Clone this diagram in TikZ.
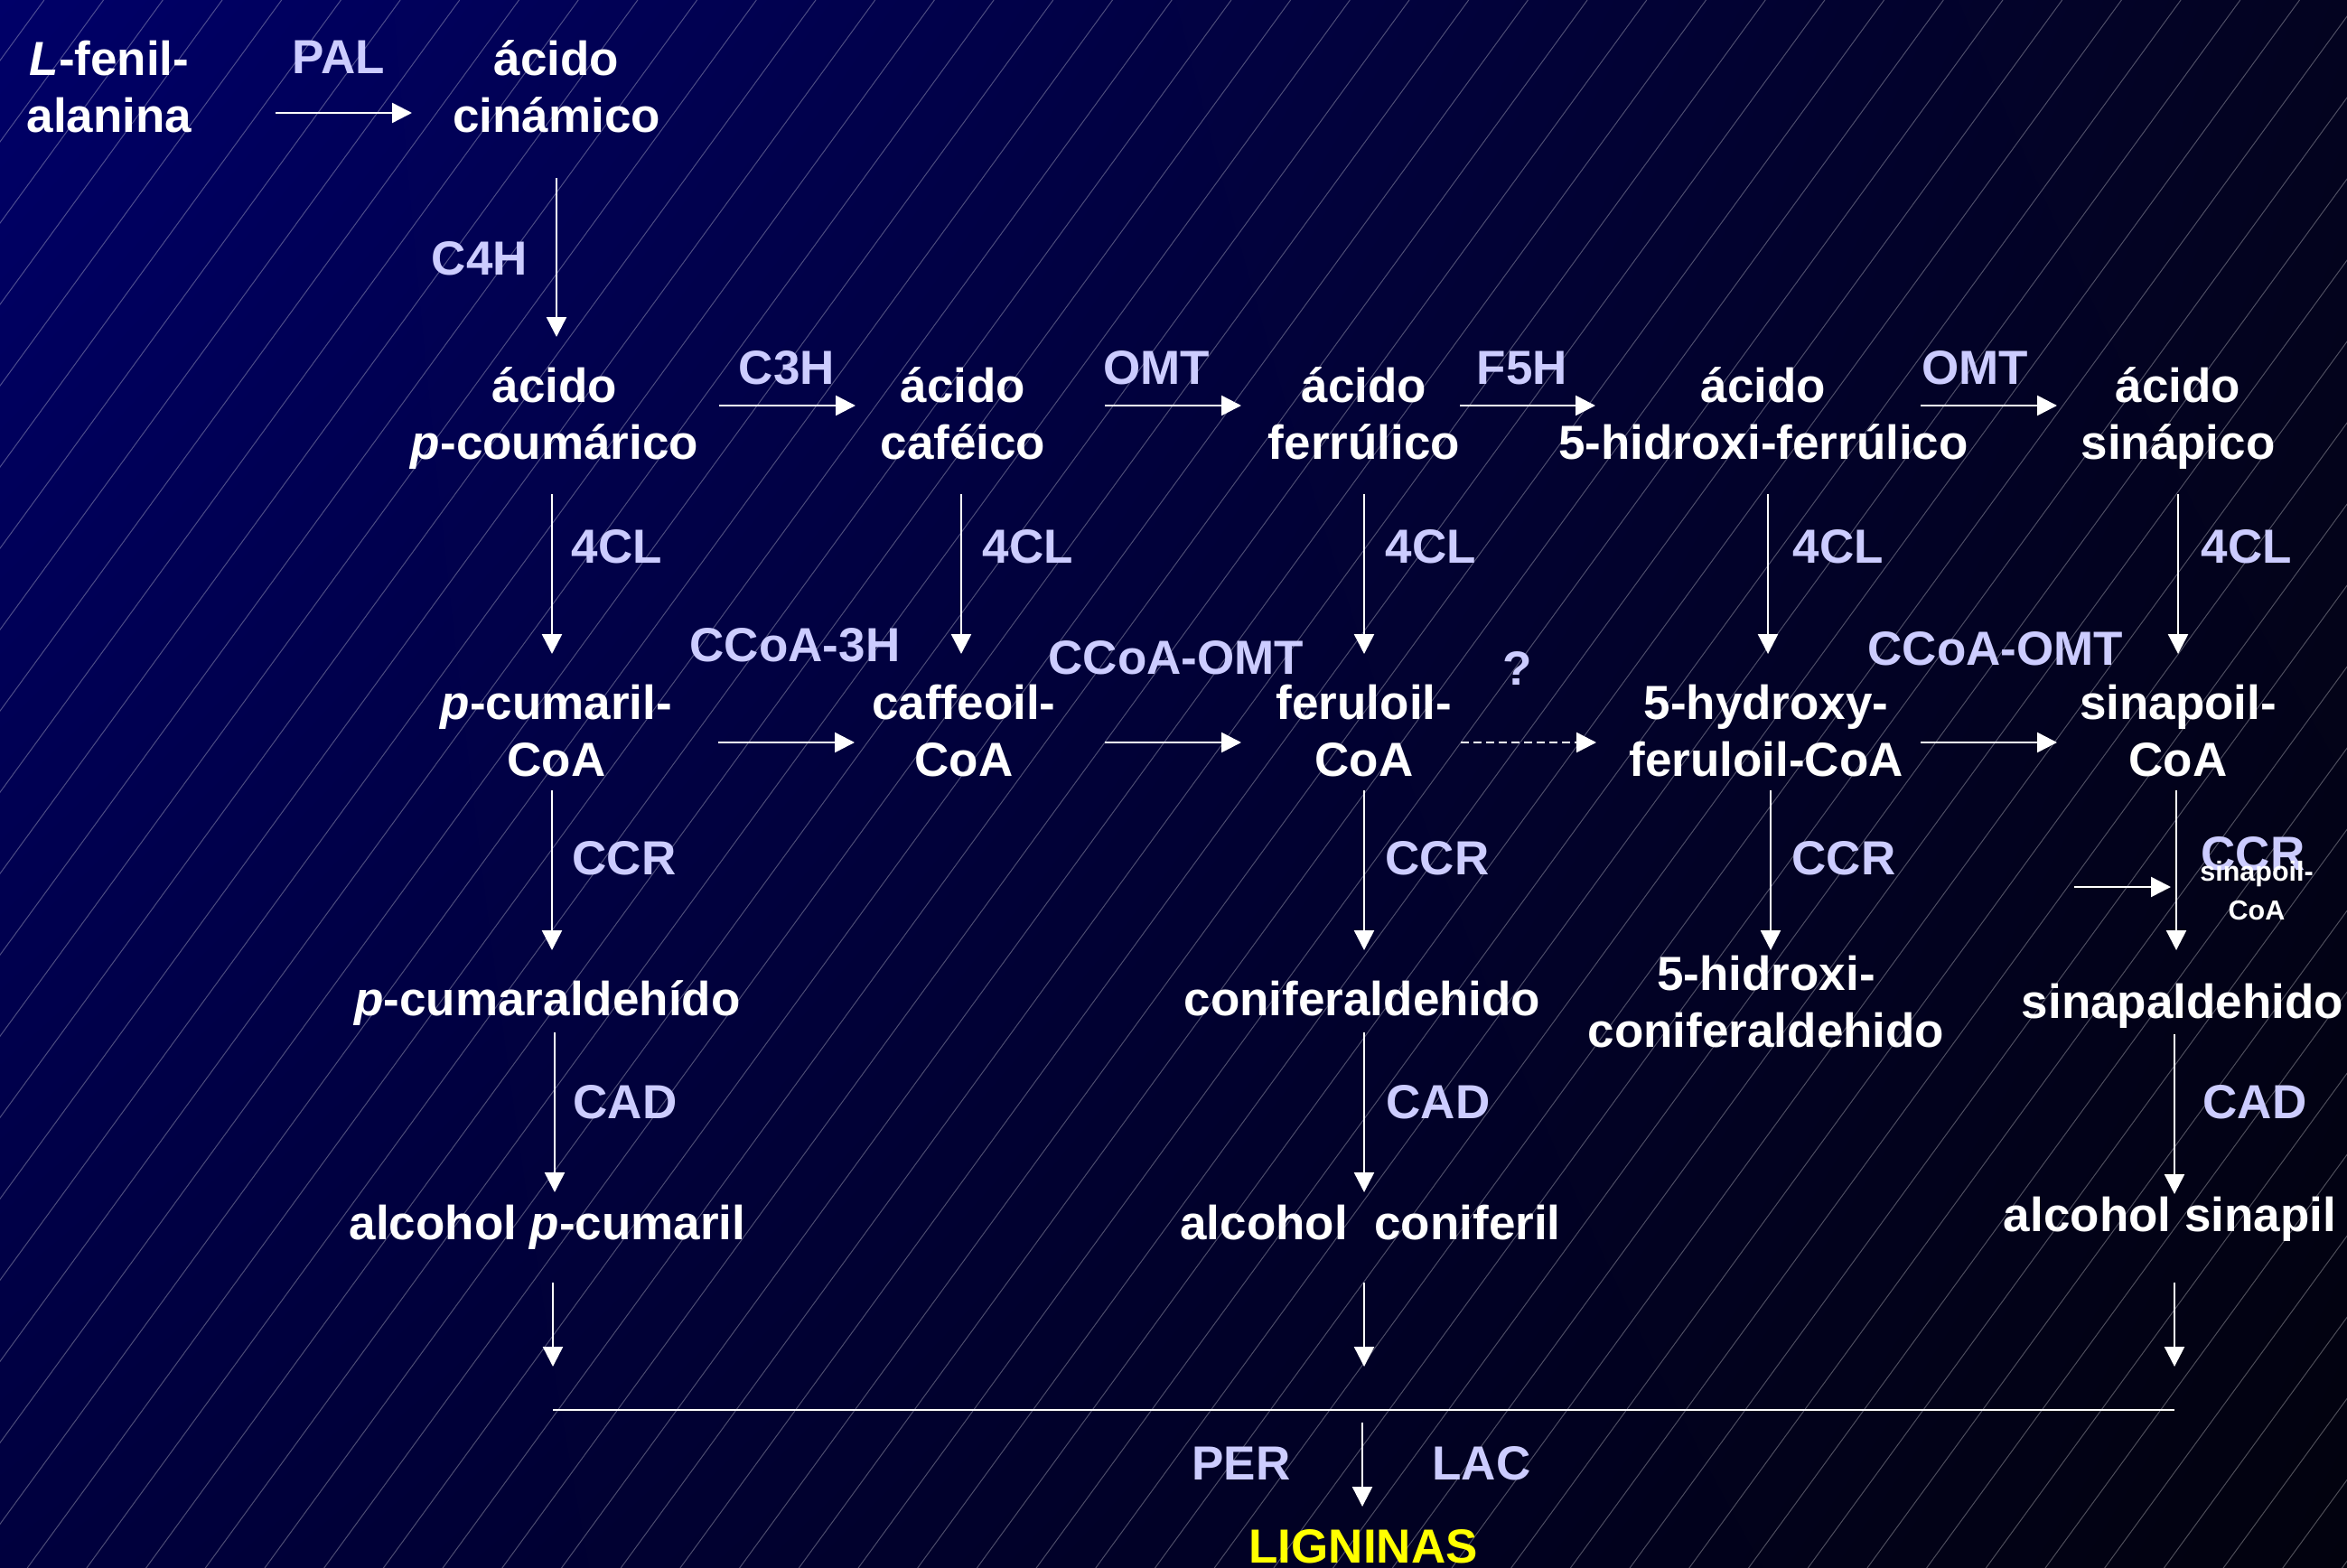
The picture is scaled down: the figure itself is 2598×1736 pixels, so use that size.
\documentclass[tikz,border=0pt]{standalone}
\usepackage{fontspec}
\setmainfont{Liberation Sans}
\usetikzlibrary{arrows.meta,shadings}
\definecolor{enz}{RGB}{204,204,255}
\definecolor{bgUL}{RGB}{0,0,104}
\definecolor{bgUR}{RGB}{3,3,32}
\definecolor{bgLL}{RGB}{0,0,62}
\definecolor{bgLR}{RGB}{2,2,14}
\definecolor{lig}{RGB}{255,255,0}
\begin{document}
\begin{tikzpicture}[x=1pt,y=-1pt,
  chem/.style={text=white,font=\bfseries\fontsize{53}{63}\selectfont,align=center,inner sep=0pt},
  enzl/.style={text=enz,font=\bfseries\fontsize{53}{63}\selectfont,inner sep=0pt,anchor=base},
  arr/.style={draw=white,line width=2.5pt,-{Triangle[width=22pt,length=22pt]}},
  rule/.style={draw=white,line width=2.5pt},
  bgline/.style={draw=white,draw opacity=0.3,line width=1pt}]
\useasboundingbox (0,0) rectangle (2598,1736);
\shade[upper left=bgUL,upper right=bgUR,lower left=bgLL,lower right=bgLR] (0,0) rectangle (2598,1736);
\begin{scope}
\clip (0,0) rectangle (2598,1736);
\foreach \m in {-25,...,34} \draw[bgline] ({2217-65.7*\m},0) -- ({950-65.7*\m},1736);
\end{scope}

% compounds
\node[chem] (phe) at (121,102.9) {\strut\textit{L}-fenil-\\\strut alanina};
\node[chem] (cin) at (616,102.9) {\strut ácido\\\strut cinámico};
\node[chem] (pcou) at (614,463.9) {\strut ácido\\\strut\textit{p}-coumárico};
\node[chem] (caf) at (1066,463.9) {\strut ácido\\\strut caféico};
\node[chem] (fer) at (1510,463.9) {\strut ácido\\\strut ferrúlico};
\node[chem] (hfer) at (1952,463.9) {\strut ácido\\\strut 5-hidroxi-ferrúlico};
\node[chem] (sin) at (2411,463.9) {\strut ácido\\\strut sinápico};
\node[chem] (pcoa) at (616,814.9) {\strut\textit{p}-cumaril-\\\strut CoA};
\node[chem] (cafcoa) at (1067,814.9) {\strut caffeoil-\\\strut CoA};
\node[chem] (fercoa) at (1510,814.9) {\strut feruloil-\\\strut CoA};
\node[chem] (hfercoa) at (1955,814.9) {\strut 5-hydroxy-\\\strut feruloil-CoA};
\node[chem] (sincoa) at (2411,814.9) {\strut sinapoil-\\\strut CoA};
\node[chem] (pald) at (606,1111.4) {\strut\textit{p}-cumaraldehído};
\node[chem] (cald) at (1508,1111.4) {\strut coniferaldehido};
\node[chem] (hcald) at (1955,1114.9) {\strut 5-hidroxi-\\\strut coniferaldehido};
\node[chem] (sald) at (2416,1114.4) {\strut sinapaldehido};
\node[chem] (palc) at (606,1359.4) {\strut alcohol \textit{p}-cumaril};
\node[chem] (calc) at (1517,1359.4) {\strut alcohol~~coniferil};
\node[chem] (salc) at (2402,1350.4) {\strut alcohol sinapil};
\node[chem,text=lig] (lig) at (1509,1717.4) {\strut LIGNINAS};

% enzymes
\node[enzl] (pal) at (375,82) {PAL};
\node[enzl] (c4h) at (531,305) {C4H};
\node[enzl] (c3h) at (871,425) {C3H};
\node[enzl] (omt1) at (1280,425) {OMT};
\node[enzl] (f5h) at (1685,425) {F5H};
\node[enzl] (omt2) at (2186,425) {OMT};
\node[enzl] (cl1) at (683,623) {4CL};
\node[enzl] (cl2) at (1138,623) {4CL};
\node[enzl] (cl3) at (1584,623) {4CL};
\node[enzl] (cl4) at (2035,623) {4CL};
\node[enzl] (cl5) at (2487,623) {4CL};
\node[enzl] (cc3h) at (880,732) {CCoA-3H};
\node[enzl] (ccomt1) at (1302,746) {CCoA-OMT};
\node[enzl] (qq) at (1680,758) {?};
\node[enzl] (ccomt2) at (2209,736) {CCoA-OMT};
\node[enzl] (ccr1) at (691,968) {CCR};
\node[enzl] (ccr2) at (1591,968) {CCR};
\node[enzl] (ccr3) at (2041,968) {CCR};
\node[enzl] (ccr4) at (2494,963) {CCR};
\node[enzl] (cad1) at (692,1238) {CAD};
\node[enzl] (cad2) at (1592,1238) {CAD};
\node[enzl] (cad3) at (2496,1238) {CAD};
\node[enzl] (per) at (1374,1638) {PER};
\node[enzl] (lac) at (1640,1638) {LAC};

\node[chem,font=\bfseries\fontsize{30.5}{43}\selectfont] (sm) at (2498,987.9) {\strut sinapoil-\\\strut CoA};

% row 1
\draw[arr] ([xshift=184pt,yshift=-22.1pt]phe.center) -- ([xshift=-160pt,yshift=-22.1pt]cin.center);
\draw[arr] ([yshift=-94.1pt]cin.center) -- ([xshift=2pt,yshift=90.9pt]pcou.center);
% row 2
\draw[arr] ([xshift=182pt,yshift=14.9pt]pcou.center) -- ([xshift=-119pt,yshift=14.9pt]caf.center);
\draw[arr] ([xshift=157pt,yshift=14.9pt]caf.center) -- ([xshift=-136pt,yshift=14.9pt]fer.center);
\draw[arr] ([xshift=106pt,yshift=14.9pt]fer.center) -- ([xshift=-186pt,yshift=14.9pt]hfer.center);
\draw[arr] ([xshift=174pt,yshift=14.9pt]hfer.center) -- ([xshift=-134pt,yshift=14.9pt]sin.center);
% 4CL
\draw[arr] ([xshift=-3pt,yshift=-83.1pt]pcou.center) -- ([xshift=-5pt,yshift=90.9pt]pcoa.center);
\draw[arr] ([xshift=-2pt,yshift=-83.1pt]caf.center) -- ([xshift=-3pt,yshift=90.9pt]cafcoa.center);
\draw[arr] ([yshift=-83.1pt]fer.center) -- ([yshift=90.9pt]fercoa.center);
\draw[arr] ([xshift=5pt,yshift=-83.1pt]hfer.center) -- ([xshift=2pt,yshift=90.9pt]hfercoa.center);
\draw[arr] ([yshift=-83.1pt]sin.center) -- ([yshift=90.9pt]sincoa.center);
% row 3
\draw[arr] ([xshift=179pt,yshift=-7.1pt]pcoa.center) -- ([xshift=-121pt,yshift=-7.1pt]cafcoa.center);
\draw[arr] ([xshift=156pt,yshift=-7.1pt]cafcoa.center) -- ([xshift=-136pt,yshift=-7.1pt]fercoa.center);
\draw[arr,dash pattern=on 9pt off 5pt] ([xshift=107pt,yshift=-7.1pt]fercoa.center) -- ([xshift=-188pt,yshift=-7.1pt]hfercoa.center);
\draw[arr] ([xshift=171pt,yshift=-7.1pt]hfercoa.center) -- ([xshift=-134pt,yshift=-7.1pt]sincoa.center);
% CCR
\draw[arr] ([xshift=-5pt,yshift=-60.1pt]pcoa.center) -- ([xshift=5pt,yshift=59.4pt]pald.center);
\draw[arr] ([yshift=-60.1pt]fercoa.center) -- ([xshift=2pt,yshift=59.4pt]cald.center);
\draw[arr] ([xshift=5pt,yshift=-60.1pt]hfercoa.center) -- ([xshift=5pt,yshift=62.9pt]hcald.center);
\draw[arr] ([xshift=-2pt,yshift=-60.1pt]sincoa.center) -- ([xshift=-7pt,yshift=62.4pt]sald.center);
\coordinate (smstart) at (2296,982);
\draw[arr] (smstart) -- ([xshift=-95pt,yshift=5.9pt]sm.center);
% CAD
\draw[arr] ([xshift=8pt,yshift=-31.6pt]pald.center) -- ([xshift=8pt,yshift=39.4pt]palc.center);
\draw[arr] ([xshift=2pt,yshift=-31.6pt]cald.center) -- ([xshift=-7pt,yshift=39.4pt]calc.center);
\draw[arr] ([xshift=-9pt,yshift=-30.6pt]sald.center) -- ([xshift=5pt,yshift=28.4pt]salc.center);
% final
\coordinate (hl) at (612,1561);
\coordinate (hm) at (1510,1561);
\coordinate (hr) at (2407,1561);
\draw[arr] ([xshift=6pt,yshift=-60.6pt]palc.center) -- ([yshift=48pt]hl);
\draw[arr] ([xshift=-7pt,yshift=-60.6pt]calc.center) -- ([yshift=48pt]hm);
\draw[arr] ([xshift=5pt,yshift=-69.6pt]salc.center) -- ([yshift=48pt]hr);
\draw[rule] (hl) -- (hr);
\draw[arr] ([xshift=-2pt,yshift=-14pt]hm) -- ([xshift=-1pt,yshift=49.4pt]lig.center);
\end{tikzpicture}
\end{document}
